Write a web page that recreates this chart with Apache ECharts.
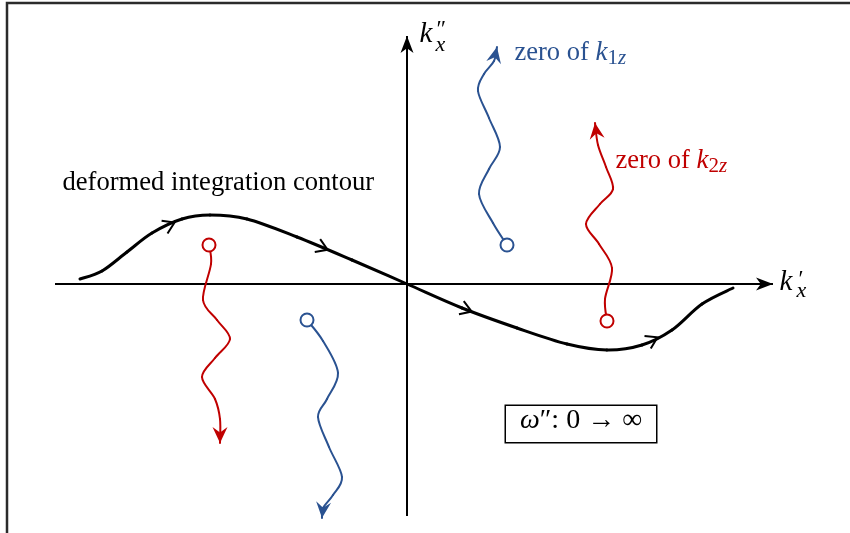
<!DOCTYPE html>
<html>
<head>
<meta charset="utf-8">
<title>Deformed integration contour</title>
<script src="https://cdn.jsdelivr.net/npm/echarts@6.0.0/dist/echarts.min.js"></script>
<style>
  html, body { margin: 0; padding: 0; background: #fff; }
  #chart { width: 850px; height: 533px; }
</style>
</head>
<body>
<div id="chart"></div>
<script>
// Complex k_x plane: real part k'_x horizontal, imaginary part k''_x vertical.
const xRange = [-407, 443];
const yRange = [-249, 284];

// Real and imaginary axes (start, arrow tip)
const realAxis = [[-352, 0], [366, 0]];
const imagAxis = [[0, -232], [0, 248]];

// Deformed integration contour
const contour = [
  [-327, 5], [-305, 13], [-280, 32], [-255, 51], [-225, 65], [-197, 69],
  [-160, 65], [-110, 47], [-55, 24], [0, 0], [55, -24], [110, -44],
  [160, -60], [200, -66], [235, -61], [265, -46], [295, -20], [326, -4]
];
// Where the direction marks sit along the contour (k'_x)
const contourMarksAt = [-237, -84, 60, 246];

// Branch cuts starting at the zeros (first point = zero, last point = arrow tip)
const cutK1zUpper = [
  [100, 39], [86, 61], [72, 90], [82, 115], [93, 137], [82, 166],
  [71, 193], [77, 210], [87, 223], [90, 237]
];
const cutK1zLower = [
  [-100, -36], [-84, -57], [-69, -89], [-80, -115], [-89, -133],
  [-78, -163], [-65, -193], [-74, -211], [-84, -224], [-85, -234]
];
const cutK2zUpper = [
  [200, -37], [198, -15], [205, 16], [192, 40], [179, 60], [193, 80],
  [206, 95], [199, 117], [191, 139], [188, 161]
];
const cutK2zLower = [
  [-198, 39], [-196, 20], [-204, -16], [-190, -36], [-177, -55],
  [-192, -74], [-205, -93], [-192, -115], [-187, -135], [-187, -159]
];

// Text annotations
const contourLabel = { at: [-345, 101], text: 'deformed integration contour' };
const k1zLabel = { at: [107, 231], text: 'zero of ', sym: 'k', sub: ['1', 'z'] };
const k2zLabel = { at: [208, 123], text: 'zero of ', sym: 'k', sub: ['2', 'z'] };
const omegaLabel = { at: [174, -140], text: ['ω', '″: 0 → ∞'] };
const imagAxisLabel = { k: [12, 250], prime: [29, 254], sub: [28, 239], primeText: '″', subText: 'x' };
const realAxisLabel = { k: [372, 2], prime: [391, 4], sub: [389, -7], primeText: '′', subText: 'x' };

const BLUE = '#2A5291';
const RED = '#C00000';
const SERIF = "'Liberation Serif', 'DejaVu Serif', serif";

// Last segment of a polyline gives the arrow direction: [tipX, tipY, fromX, fromY]
function tipOf(curve) {
  const a = curve[curve.length - 2], b = curve[curve.length - 1];
  return [b[0], b[1], a[0], a[1]];
}

// Position and direction on the contour at a given abscissa
function markOn(curve, x) {
  for (let i = 0; i < curve.length - 1; i++) {
    const a = curve[i], b = curve[i + 1];
    if (x >= a[0] && x <= b[0]) {
      const t = (x - a[0]) / (b[0] - a[0]);
      return [x, a[1] + t * (b[1] - a[1]), b[0] - a[0], b[1] - a[1]];
    }
  }
  return null;
}

// Smooth curve through the points: one Catmull-Rom cubic per segment
function splineSeries(curve, color, width, z) {
  return {
    type: 'custom',
    silent: true,
    clip: false,
    z: z,
    data: curve.slice(0, curve.length - 1),
    renderItem: function (params, api) {
      const i = params.dataIndex;
      const n = curve.length;
      const p0 = api.coord(curve[Math.max(i - 1, 0)]);
      const p1 = api.coord(curve[i]);
      const p2 = api.coord(curve[i + 1]);
      const p3 = api.coord(curve[Math.min(i + 2, n - 1)]);
      return {
        type: 'bezierCurve',
        shape: {
          x1: p1[0], y1: p1[1], x2: p2[0], y2: p2[1],
          cpx1: p1[0] + (p2[0] - p0[0]) / 6, cpy1: p1[1] + (p2[1] - p0[1]) / 6,
          cpx2: p2[0] - (p3[0] - p1[0]) / 6, cpy2: p2[1] - (p3[1] - p1[1]) / 6
        },
        style: { stroke: color, lineWidth: width, fill: null, lineCap: 'round' }
      };
    }
  };
}

function arrowHeadSeries(items, color, len, half, notch) {
  return {
    type: 'custom',
    silent: true,
    clip: false,
    z: 5,
    data: items,
    renderItem: function (params, api) {
      const tip = api.coord([api.value(0), api.value(1)]);
      const from = api.coord([api.value(2), api.value(3)]);
      let dx = tip[0] - from[0], dy = tip[1] - from[1];
      const d = Math.hypot(dx, dy) || 1;
      dx /= d; dy /= d;
      const nx = -dy, ny = dx;
      const points = [
        tip,
        [tip[0] - dx * len + nx * half, tip[1] - dy * len + ny * half],
        [tip[0] - dx * len * notch, tip[1] - dy * len * notch],
        [tip[0] - dx * len - nx * half, tip[1] - dy * len - ny * half]
      ];
      return { type: 'polygon', shape: { points: points }, style: { fill: color } };
    }
  };
}

// Zeros drawn as open circles at the start of each cut
function zeroSeries(points, color) {
  return {
    type: 'scatter', data: points, symbol: 'circle', symbolSize: 13, silent: true, z: 7,
    itemStyle: { color: '#fff', borderColor: color, borderWidth: 2, opacity: 1 }
  };
}

function textItem(at, label) {
  return { value: at, label: Object.assign({ show: true, position: 'right', distance: 0 }, label) };
}

function axisLabelItems(spec) {
  const kStyle = { fontFamily: SERIF, fontStyle: 'italic', fontSize: 29, color: '#000' };
  const sStyle = { fontFamily: SERIF, fontStyle: 'italic', fontSize: 22, color: '#000' };
  const pStyle = { fontFamily: SERIF, fontSize: 23, color: '#000' };
  return [
    textItem(spec.k, Object.assign({ formatter: 'k' }, kStyle)),
    textItem(spec.sub, Object.assign({ formatter: spec.subText }, sStyle)),
    textItem(spec.prime, Object.assign({ formatter: spec.primeText }, pStyle))
  ];
}

function zeroLabelItem(spec, color) {
  return textItem(spec.at, {
    formatter: '{t|' + spec.text + '}{k|' + spec.sym + '}{s|' + spec.sub[0] + '}{z|' + spec.sub[1] + '}',
    rich: {
      t: { fontFamily: SERIF, fontSize: 26.5, lineHeight: 32, color: color },
      k: { fontFamily: SERIF, fontStyle: 'italic', fontSize: 27, lineHeight: 32, color: color },
      s: { fontFamily: SERIF, fontSize: 21, lineHeight: 18, verticalAlign: 'bottom', color: color },
      z: { fontFamily: SERIF, fontStyle: 'italic', fontSize: 21, lineHeight: 18, verticalAlign: 'bottom', color: color }
    }
  });
}

const labelData = []
  .concat(axisLabelItems(imagAxisLabel))
  .concat(axisLabelItems(realAxisLabel))
  .concat([
    textItem(contourLabel.at, { formatter: contourLabel.text, fontFamily: SERIF, fontSize: 26.6, color: '#000' }),
    zeroLabelItem(k1zLabel, BLUE),
    zeroLabelItem(k2zLabel, RED),
    {
      value: omegaLabel.at,
      label: {
        show: true, position: 'inside',
        formatter: '{w|' + omegaLabel.text[0] + '}{r|' + omegaLabel.text[1] + '}',
        width: 144, height: 34, align: 'center', verticalAlign: 'middle',
        padding: [1, 3], borderColor: '#000', borderWidth: 1.5, backgroundColor: '#fff',
        rich: {
          w: { fontFamily: SERIF, fontStyle: 'italic', fontSize: 28, color: '#000' },
          r: { fontFamily: SERIF, fontSize: 28, color: '#000' }
        }
      }
    }
  ]);

const chart = echarts.init(document.getElementById('chart'), null, { renderer: 'canvas' });

chart.setOption({
  backgroundColor: '#fff',
  animation: false,
  grid: { left: 0, right: 0, top: 0, bottom: 0 },
  xAxis: { type: 'value', min: xRange[0], max: xRange[1], show: false },
  yAxis: { type: 'value', min: yRange[0], max: yRange[1], show: false },
  graphic: [{
    type: 'polyline',
    shape: { points: [[7, 533], [7, 3], [850, 3]] },
    style: { stroke: '#2b2b2b', lineWidth: 2.5, fill: null },
    silent: true
  }],
  series: [
    { type: 'line', data: realAxis, symbol: 'none', silent: true, z: 2, lineStyle: { color: '#000', width: 2 } },
    { type: 'line', data: imagAxis, symbol: 'none', silent: true, z: 2, lineStyle: { color: '#000', width: 2 } },
    arrowHeadSeries([
      [realAxis[1][0], realAxis[1][1], realAxis[0][0], realAxis[0][1]],
      [imagAxis[1][0], imagAxis[1][1], imagAxis[0][0], imagAxis[0][1]]
    ], '#000', 17, 6.5, 0.72),
    splineSeries(contour, '#000', 3, 4),
    {
      type: 'custom', silent: true, clip: false, z: 6,
      data: contourMarksAt.map(function (x) { return markOn(contour, x); }),
      renderItem: function (params, api) {
        const c = api.coord([api.value(0), api.value(1)]);
        const f = api.coord([api.value(0) + api.value(2), api.value(1) + api.value(3)]);
        let dx = f[0] - c[0], dy = f[1] - c[1];
        const d = Math.hypot(dx, dy) || 1;
        dx /= d; dy /= d;
        const nx = -dy, ny = dx;
        const tip = [c[0] + dx * 5, c[1] + dy * 5];
        const pts = [
          [tip[0] - dx * 11 + nx * 7, tip[1] - dy * 11 + ny * 7],
          tip,
          [tip[0] - dx * 11 - nx * 7, tip[1] - dy * 11 - ny * 7]
        ];
        return { type: 'polyline', shape: { points: pts }, style: { stroke: '#000', lineWidth: 2, fill: null, lineJoin: 'miter' } };
      }
    },
    splineSeries(cutK1zUpper, BLUE, 2, 3),
    splineSeries(cutK1zLower, BLUE, 2, 3),
    splineSeries(cutK2zUpper, RED, 2, 3),
    splineSeries(cutK2zLower, RED, 2, 3),
    zeroSeries([cutK1zUpper[0], cutK1zLower[0]], BLUE),
    zeroSeries([cutK2zUpper[0], cutK2zLower[0]], RED),
    arrowHeadSeries([tipOf(cutK1zUpper), tipOf(cutK1zLower)], BLUE, 16, 7.5, 0.65),
    arrowHeadSeries([tipOf(cutK2zUpper), tipOf(cutK2zLower)], RED, 16, 7.5, 0.65),
    {
      type: 'scatter', data: labelData, symbolSize: 1, silent: true, z: 8,
      itemStyle: { color: 'rgba(0,0,0,0)', opacity: 1 }
    }
  ]
});
</script>
</body>
</html>
